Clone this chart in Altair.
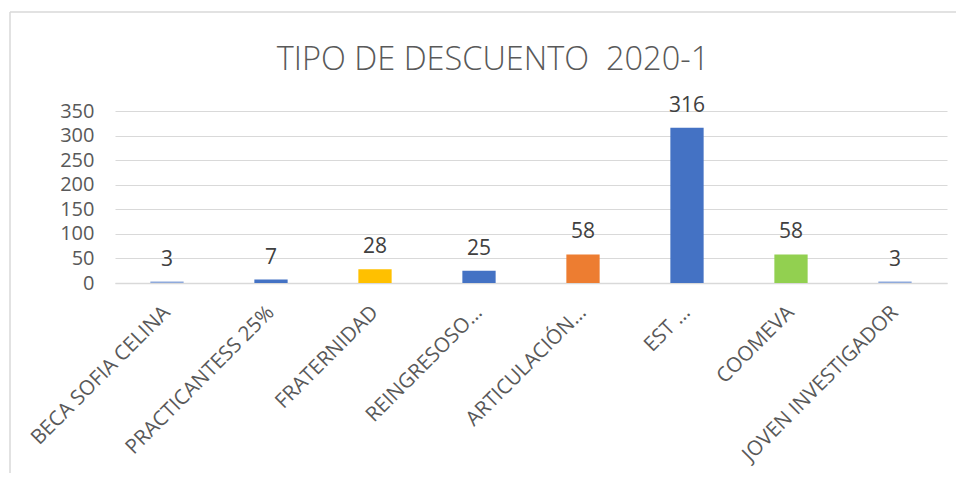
import altair as alt
import pandas as pd

categories = ["BECA SOFIA CELINA", "PRACTICANTESS 25%", "FRATERNIDAD", "REINGRESOSO…",
              "ARTICULACIÓN…", "EST …", "COOMEVA", "JOVEN INVESTIGADOR"]
values = [3, 7, 28, 25, 58, 316, 58, 3]
colors = ["#8FAADC", "#4472C4", "#FFC000", "#4472C4", "#ED7D31", "#4472C4", "#92D050", "#8FAADC"]
y_ticks = [0, 50, 100, 150, 200, 250, 300, 350]
title_text = "TIPO DE DESCUENTO\u00a0 2020-1"

df = pd.DataFrame({"cat": categories, "val": values})
FONT = "Open Sans"

x_enc = alt.X("cat:N", sort=categories,
              scale=alt.Scale(paddingInner=0.68, paddingOuter=0.34),
              axis=alt.Axis(title=None, labelAngle=-45, labelAlign="right", labelBaseline="middle",
                            labelPadding=26, ticks=False, domainColor="#D9D9D9", domainWidth=1.5,
                            labelFont=FONT, labelFontSize=20.5, labelColor="#595959", labelLimit=400,
                            labelOverlap=False))
y_enc = alt.Y("val:Q", scale=alt.Scale(domain=[0, 350], nice=False),
              axis=alt.Axis(title=None, values=y_ticks, domain=False, ticks=False,
                            labelPadding=21, labelFont=FONT, labelFontSize=20,
                            labelColor="#595959", gridColor="#D9D9D9", gridWidth=1.2,
                            labelOverlap=False))

base = alt.Chart(df)
bars = base.mark_bar().encode(
    x=x_enc, y=y_enc,
    color=alt.Color("cat:N", scale=alt.Scale(domain=categories, range=colors), legend=None),
)
labels = base.mark_text(font=FONT, fontSize=21, color="#404040", baseline="alphabetic", dy=-16).encode(
    x=x_enc, y=y_enc, text="val:Q"
)

one = pd.DataFrame({"t": [title_text]})
title = alt.Chart(one).mark_text(font=FONT, fontSize=32.5, fontWeight=300, color="#595959",
                                 baseline="alphabetic", align="center").encode(
    text="t:N", x=alt.value(378), y=alt.value(-41)
)
border_left = alt.Chart(one).mark_rule(color="#D9D9D9", strokeWidth=1.5).encode(
    x=alt.value(-105), y=alt.value(-99), y2=alt.value(400)
)
border_top = alt.Chart(one).mark_rule(color="#D9D9D9", strokeWidth=1.5).encode(
    x=alt.value(-105), x2=alt.value(900), y=alt.value(-99)
)

chart = alt.layer(border_left, border_top, bars, labels, title).properties(
    width=832, height=172,
    autosize=alt.AutoSizeParams(type="none"),
    padding={"left": 107, "top": 103, "right": 9, "bottom": 190},
).configure_view(stroke=None)

chart.save("out.html", embed_options={"renderer": "svg", "actions": False})
